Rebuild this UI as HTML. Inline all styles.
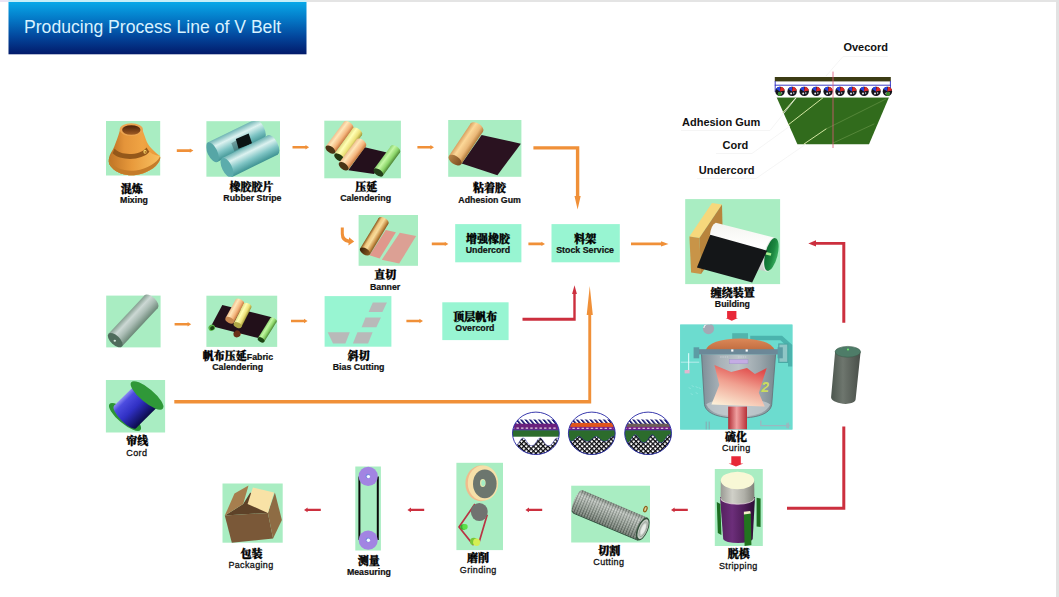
<!DOCTYPE html>
<html lang="zh">
<head>
<meta charset="utf-8">
<title>Producing Process Line of V Belt</title>
<style>
html,body{margin:0;padding:0;background:#fff;}
body{width:1059px;height:597px;overflow:hidden;position:relative;}
svg{display:block;position:absolute;left:0;top:0;}
.en{font-family:"Liberation Sans",sans-serif;font-weight:bold;font-size:8.8px;fill:#111;text-anchor:middle;stroke:#111;stroke-width:0.22px;}
.er{font-family:"Liberation Sans",sans-serif;font-weight:normal;font-size:9px;fill:#111;text-anchor:middle;letter-spacing:0.35px;stroke:#111;stroke-width:0.28px;}
.zh{font-family:"Liberation Serif","Noto Serif CJK SC",serif;font-weight:900;font-size:11px;fill:#000;text-anchor:middle;stroke:#000;stroke-width:0.35px;transform:translateY(0.4px);}
.bl{font-family:"Liberation Sans",sans-serif;font-weight:bold;font-size:11px;fill:#111;}
.title{font-family:"Liberation Sans",sans-serif;font-size:17.6px;fill:#d8f2ff;}
</style>
</head>
<body>
<svg width="1059" height="597" viewBox="0 0 1059 597">
<defs>
<linearGradient id="gTitle" x1="0" y1="0" x2="0" y2="1">
<stop offset="0" stop-color="#08a8e8"/><stop offset="0.33" stop-color="#0478c6"/><stop offset="0.65" stop-color="#03489e"/><stop offset="1" stop-color="#021a6a"/>
</linearGradient>
<linearGradient id="g1" x1="0" y1="0" x2="1" y2="0"><stop offset="0" stop-color="#b86c22"/><stop offset="0.3" stop-color="#e4943a"/><stop offset="0.65" stop-color="#f0a444"/><stop offset="1" stop-color="#e89838"/></linearGradient>
<linearGradient id="g2" x1="0" y1="0" x2="0" y2="1"><stop offset="0" stop-color="#4a2008"/><stop offset="1" stop-color="#a05c24"/></linearGradient>
<linearGradient id="g3" x1="0" y1="0" x2="1" y2="0"><stop offset="0" stop-color="#c07426"/><stop offset="0.45" stop-color="#e89a3c"/><stop offset="1" stop-color="#f8c060"/></linearGradient>
<linearGradient id="g4" x1="0" y1="0" x2="0" y2="1"><stop offset="0" stop-color="#6fb4b4"/><stop offset="0.3" stop-color="#dcf2f0"/><stop offset="0.65" stop-color="#7ec4c4"/><stop offset="1" stop-color="#3f9393"/></linearGradient>
<linearGradient id="g5" x1="0" y1="0" x2="0" y2="1"><stop offset="0" stop-color="#6fb4b4"/><stop offset="0.3" stop-color="#dcf2f0"/><stop offset="0.65" stop-color="#7ec4c4"/><stop offset="1" stop-color="#3f9393"/></linearGradient>
<linearGradient id="g6" x1="0" y1="0" x2="0" y2="1"><stop offset="0" stop-color="#f0c090"/><stop offset="0.28" stop-color="#ffe6b8"/><stop offset="0.7" stop-color="#f4b47c"/><stop offset="1" stop-color="#c4763c"/></linearGradient>
<linearGradient id="g7" x1="0" y1="0" x2="0" y2="1"><stop offset="0" stop-color="#e6de84"/><stop offset="0.3" stop-color="#ffffb4"/><stop offset="0.7" stop-color="#ece078"/><stop offset="1" stop-color="#a09838"/></linearGradient>
<linearGradient id="g8" x1="0" y1="0" x2="0" y2="1"><stop offset="0" stop-color="#f0c090"/><stop offset="0.28" stop-color="#ffe6b8"/><stop offset="0.7" stop-color="#f4b47c"/><stop offset="1" stop-color="#c4763c"/></linearGradient>
<linearGradient id="g9" x1="0" y1="0" x2="0" y2="1"><stop offset="0" stop-color="#8ed474"/><stop offset="0.3" stop-color="#c4f8a4"/><stop offset="0.7" stop-color="#8ad468"/><stop offset="1" stop-color="#4c8434"/></linearGradient>
<linearGradient id="g10" x1="0" y1="0" x2="0" y2="1"><stop offset="0" stop-color="#d8a060"/><stop offset="0.3" stop-color="#fcd898"/><stop offset="0.7" stop-color="#eab878"/><stop offset="1" stop-color="#b07838"/></linearGradient>
<linearGradient id="g11" x1="0" y1="0" x2="0" y2="1"><stop offset="0" stop-color="#b88448"/><stop offset="1" stop-color="#7a4c20"/></linearGradient>
<linearGradient id="g12" x1="0" y1="0" x2="0" y2="1"><stop offset="0" stop-color="#8a5418"/><stop offset="0.25" stop-color="#f0c880"/><stop offset="0.5" stop-color="#f8dc9c"/><stop offset="0.8" stop-color="#c89048"/><stop offset="1" stop-color="#8a5820"/></linearGradient>
<linearGradient id="g13" x1="0" y1="0" x2="0" y2="1"><stop offset="0" stop-color="#3a2008"/><stop offset="1" stop-color="#8a5c20"/></linearGradient>
<linearGradient id="g14" x1="0" y1="0" x2="0" y2="1"><stop offset="0" stop-color="#86a092"/><stop offset="0.3" stop-color="#ccd8d4"/><stop offset="0.6" stop-color="#aabcb4"/><stop offset="1" stop-color="#6c8878"/></linearGradient>
<linearGradient id="g15" x1="0" y1="0" x2="0" y2="1"><stop offset="0" stop-color="#f0c090"/><stop offset="0.28" stop-color="#ffe6b8"/><stop offset="0.7" stop-color="#f4b47c"/><stop offset="1" stop-color="#c4763c"/></linearGradient>
<linearGradient id="g16" x1="0" y1="0" x2="0" y2="1"><stop offset="0" stop-color="#f0c090"/><stop offset="0.28" stop-color="#ffe6b8"/><stop offset="0.7" stop-color="#f4b47c"/><stop offset="1" stop-color="#c4763c"/></linearGradient>
<linearGradient id="g17" x1="0" y1="0" x2="0" y2="1"><stop offset="0" stop-color="#e6de84"/><stop offset="0.3" stop-color="#ffffb4"/><stop offset="0.7" stop-color="#ece078"/><stop offset="1" stop-color="#a09838"/></linearGradient>
<linearGradient id="g18" x1="0" y1="0" x2="0" y2="1"><stop offset="0" stop-color="#8ed474"/><stop offset="0.3" stop-color="#c4f8a4"/><stop offset="0.7" stop-color="#8ad468"/><stop offset="1" stop-color="#4c8434"/></linearGradient>
<linearGradient id="g19" x1="0" y1="0" x2="0" y2="1"><stop offset="0" stop-color="#8c8cf4"/><stop offset="0.15" stop-color="#4c4ce0"/><stop offset="0.5" stop-color="#3030c4"/><stop offset="0.85" stop-color="#161670"/><stop offset="1" stop-color="#0c0c48"/></linearGradient>
<linearGradient id="g101" x1="0" y1="0" x2="0" y2="1"><stop offset="0" stop-color="#f4f4f0"/><stop offset="0.5" stop-color="#ffffff"/><stop offset="1" stop-color="#c8ccc8"/></linearGradient>
<linearGradient id="g102" x1="0" y1="0" x2="1" y2="0"><stop offset="0" stop-color="#0c6c30"/><stop offset="0.6" stop-color="#1c8840"/><stop offset="1" stop-color="#38b060"/></linearGradient>
<linearGradient id="g103" x1="0" y1="0" x2="1" y2="0"><stop offset="0" stop-color="#7e8e98"/><stop offset="0.25" stop-color="#a8b2b8"/><stop offset="0.5" stop-color="#bcc4c8"/><stop offset="0.8" stop-color="#98a4aa"/><stop offset="1" stop-color="#78888f"/></linearGradient>
<linearGradient id="g104" x1="0" y1="0" x2="0" y2="1"><stop offset="0" stop-color="#dc8858"/><stop offset="1" stop-color="#c06c40"/></linearGradient>
<linearGradient id="g105" x1="0.6" y1="0" x2="0.2" y2="1"><stop offset="0" stop-color="#e04848"/><stop offset="0.45" stop-color="#f0a090"/><stop offset="1" stop-color="#fcf0d8"/></linearGradient>
<linearGradient id="g106" x1="0" y1="0" x2="1" y2="0"><stop offset="0" stop-color="#b02c34"/><stop offset="0.45" stop-color="#f0a0a0"/><stop offset="1" stop-color="#b83038"/></linearGradient>
<linearGradient id="g107" x1="0" y1="0" x2="1" y2="0"><stop offset="0" stop-color="#9a9a94"/><stop offset="0.35" stop-color="#d0d0c8"/><stop offset="0.7" stop-color="#b0b0a8"/><stop offset="1" stop-color="#808078"/></linearGradient>
<linearGradient id="g108" x1="0" y1="0" x2="1" y2="0"><stop offset="0" stop-color="#54205e"/><stop offset="0.35" stop-color="#6c2e7a"/><stop offset="0.7" stop-color="#4e1c58"/><stop offset="1" stop-color="#2c0c34"/></linearGradient>
<pattern id="mesh" width="2.8" height="2.3" patternUnits="userSpaceOnUse"><rect width="2.8" height="2.3" fill="#a4aca4"/><path d="M0,0.3 H2.8" stroke="#ccd4cc" stroke-width="0.6"/><path d="M0.4,0 V2.3" stroke="#58625a" stroke-width="0.8"/></pattern>
<linearGradient id="g109" x1="0" y1="0" x2="0" y2="1"><stop offset="0" stop-color="#000000"/><stop offset="0.3" stop-color="#ffffff"/><stop offset="0.6" stop-color="#808080"/><stop offset="1" stop-color="#000000"/></linearGradient>
<linearGradient id="g110" x1="0" y1="0" x2="0" y2="1"><stop offset="0" stop-color="#404840"/><stop offset="0.2" stop-color="#ffffff"/><stop offset="0.6" stop-color="#8a928a"/><stop offset="1" stop-color="#101810"/></linearGradient>
<linearGradient id="g111" x1="0" y1="0" x2="1" y2="0"><stop offset="0" stop-color="#4c564e"/><stop offset="0.4" stop-color="#6e766e"/><stop offset="1" stop-color="#484e48"/></linearGradient>
<pattern id="chk" width="3.4" height="3.4" patternUnits="userSpaceOnUse" patternTransform="rotate(45)"><rect width="3.4" height="3.4" fill="#fff"/><path d="M0,0.65 H3.4 M0.65,0 V3.4" stroke="#08080c" stroke-width="1.25"/></pattern>
<pattern id="hat" width="4.5" height="6" patternUnits="userSpaceOnUse" patternTransform="skewX(40)"><rect width="4.5" height="6" fill="#fff"/><rect width="2.3" height="6" fill="#1c1c74"/></pattern>
<clipPath id="cc"><ellipse cx="0" cy="0" rx="23.4" ry="21.2"/></clipPath>
</defs>
<rect width="1059" height="597" fill="#fff"/>
<!-- page edges -->
<rect x="0" y="0" width="1059" height="2" fill="#e4e4e4"/><rect x="0" y="0" width="8.5" height="2" fill="#ebe4f4"/><rect x="8.5" y="0" width="298" height="2.2" fill="#c6eef8"/>
<rect x="1056" y="0" width="3" height="597" fill="#e2e2e2"/>
<!-- title -->
<rect x="8.5" y="2" width="298" height="52.3" fill="url(#gTitle)"/>
<text class="title" x="24" y="32.5">Producing Process Line of V Belt</text>

<!-- orange arrows -->
<g fill="#f09038" stroke="none">
<path id="oa" d="M0,-1.3 L13,-1.3 L13,-2.2 L16.6,0 L13,2.2 L13,1.3 L0,1.3 Z" transform="translate(176.8,150.6)"/>
<use href="#oa" x="115.7" y="-3.3"/>
<use href="#oa" x="240.6" y="-3.3"/>
<use href="#oa" x="255" y="93.3"/>
<use href="#oa" x="351.6" y="93.3"/>
<use href="#oa" x="-2.2" y="173.6"/>
<use href="#oa" x="114.2" y="170.4"/>
<use href="#oa" x="229.6" y="170.4"/>
<!-- after stock service -->
<path d="M631,242.6 L661,242.6 L661,241.2 L668.5,243.9 L661,246.6 L661,245.2 L631,245.2 Z"/>
<!-- adhesion gum -> stock service -->
<path d="M533.4,146.3 L579.3,146.3 L579.3,196 L580.7,196 L577.6,209.6 L574.5,196 L575.9,196 L575.9,149.5 L533.4,149.5 Z"/>
<!-- cord line -->
<path d="M174.3,400 L588.3,400 L588.3,315 L586.7,315 L589.75,286 L592.8,315 L591.2,315 L591.2,403.4 L174.3,403.4 Z"/>
<!-- curved arrow -->
<path d="M340.8,227.6 L343.8,227.6 L343.8,233.5 Q344,238.6 349,239.4 L349,237.2 L354.2,241.6 L348.4,245.4 L348.6,242.9 Q340.8,242 340.8,234 Z"/>
</g>
<!-- red arrows -->
<g fill="#cc2f3e" stroke="none">
<path id="ra" d="M0,0 L3.6,-2.3 L3.6,-1.2 L16.8,-1.2 L16.8,1.2 L3.6,1.2 L3.6,2.3 Z" transform="translate(304,509.9)"/>
<use href="#ra" x="103.4" y="0"/>
<use href="#ra" x="221.4" y="0"/>
<use href="#ra" x="367" y="0"/>
<!-- overcord -> stock -->
<path d="M522.5,317.8 L573.3,317.8 L573.3,294 L572.1,294 L574.5,285.2 L576.9,294 L575.7,294 L575.7,320.7 L522.5,320.7 Z"/>
<!-- loop back to building -->
<path d="M808.3,243.4 L816,240.3 L816,242 L845.3,242 L845.3,322.8 L842.3,322.8 L842.3,244.8 L816,244.8 L816,246.5 Z"/>
<path d="M842.3,426.5 L845.3,426.5 L845.3,509.8 L787,509.8 L787,506.8 L842.3,506.8 Z"/>
</g>
<g fill="#e82838">
<path d="M727.1,310.9 H736.4 V318 H738 L731.8,320.8 L725.6,318 H727.1 Z"/>
<path d="M731.3,456.2 H740.8 V463.5 H743.4 L736,466.6 L728.6,463.5 H731.3 Z"/>
</g>

<g>
<rect x="106" y="121" width="54.2" height="54.5" fill="#a9edc2"/>
<rect x="206.4" y="121.2" width="73.6" height="55.5" fill="#a9edc2"/>
<rect x="324.3" y="120.7" width="76.6" height="57.6" fill="#a9edc2"/>
<rect x="448.2" y="120" width="73.2" height="56.8" fill="#a9edc2"/>
<rect x="358.6" y="215" width="59.4" height="50.8" fill="#a9edc2"/>
<rect x="455.2" y="224.1" width="66.2" height="38.2" fill="#98f5d2"/>
<rect x="551.5" y="224.1" width="68.3" height="38.2" fill="#98f5d2"/>
<rect x="106.2" y="295.6" width="54.4" height="51.8" fill="#a9edc2"/>
<rect x="206.4" y="295.7" width="70.8" height="51.2" fill="#a9edc2"/>
<rect x="324.6" y="296.1" width="66.8" height="50.6" fill="#98f5d2"/>
<rect x="442.3" y="302.3" width="66.3" height="37.8" fill="#98f5d2"/>
<rect x="105.9" y="380" width="59.2" height="52.5" fill="#a9edc2"/>
<rect x="685.2" y="199.1" width="94.9" height="85" fill="#a9edc2"/>
<rect x="680.2" y="324.6" width="112.2" height="104.9" fill="#66d9d3"/>
<rect x="714.8" y="469" width="48" height="77" fill="#a9edc2"/>
<rect x="571.2" y="485.7" width="78.8" height="56.8" fill="#a9edc2"/>
<rect x="456.4" y="462.8" width="46.6" height="87.3" fill="#a9edc2"/>
<rect x="355.3" y="466.5" width="25.6" height="84" fill="#a9edc2"/>
<rect x="222.5" y="483.5" width="60.2" height="59.2" fill="#a9edc2"/>
</g>

<g transform="translate(106,121)"><path d="M14,9 C12,16 10,21 8.3,25.5 C6.5,30 3.5,33 2.9,38 C2.4,42 3.4,44 5.4,46 C12,53.5 22,55 30,54 C40,52.6 50,47 53.4,40 C54.6,37 54.4,35.5 53.4,34.6 C49,31 43,26 40.9,21 C39,16 37.6,12 36.6,9 Z" fill="url(#g1)"/><path d="M6.6,32.2 C14,40 36,40 43.4,30.8 C47,34 51,34.6 53.4,34.6 C54.4,35.5 54.6,37 53.4,40 C50,47 40,52.6 30,54 C22,55 12,53.5 5.4,46 C3.4,44 2.4,42 2.9,38 C3.4,35 5.4,33.6 6.6,32.2 Z" fill="url(#g3)"/><path d="M2.9,38 C2.4,42 3.4,44 5.4,46 C12,53.5 22,55 30,54 C40,52.6 50,47 53.4,40 C54.4,37.6 54.4,36 54,35.4 C51,42 41,47.6 30,49.4 C20,50.6 8,48.4 2.9,38 Z" fill="#c47c2a"/><path d="M8.6,27.6 C14,35 34,35 40.6,26.4 C41.4,28 42.4,29.6 43.4,30.8 C36,40 14,40 6.6,32.2 C7.4,30.6 8,29.2 8.6,27.6 Z" fill="#94581a"/><ellipse cx="39" cy="30.8" rx="1.6" ry="2" fill="#f6d468"/><ellipse cx="39.3" cy="30.9" rx="0.7" ry="1" fill="#a86820"/><ellipse cx="25.3" cy="8.6" rx="11.6" ry="6.4" fill="#eca450"/><ellipse cx="25.3" cy="9" rx="9.2" ry="4.8" fill="url(#g2)"/></g>
<g transform="translate(206.4,121.2)"><clipPath id="c2"><rect width="73.6" height="55.5"/></clipPath><g clip-path="url(#c2)"><g transform="translate(6,31) rotate(-25.9)"><ellipse cx="52.2" cy="0" rx="4.9" ry="10.8" fill="url(#g4)"/><rect x="0" y="-10.8" width="52.2" height="21.6" fill="url(#g4)"/><ellipse cx="0" cy="0" rx="4.9" ry="10.8" fill="#56a6a6"/></g><polygon points="25,22 30,19 33,27.6 28,30" fill="#3a5858" opacity="0.45"/><polygon points="29.4,17.9 42.3,12.3 45.7,22.4 32.2,27.5" fill="#0c1414"/><g transform="translate(20.6,46.4) rotate(-26.3)"><ellipse cx="51.1" cy="0" rx="4.9" ry="10.8" fill="url(#g5)"/><rect x="0" y="-10.8" width="51.1" height="21.6" fill="url(#g5)"/><ellipse cx="0" cy="0" rx="4.9" ry="10.8" fill="#5cacac"/></g></g></g>
<g transform="translate(324.3,120.7)"><g transform="translate(6.1,28.9) rotate(-53.3)"><ellipse cx="30.4" cy="0" rx="3.1" ry="5.7" fill="url(#g6)"/><rect x="0" y="-5.7" width="30.4" height="11.4" fill="url(#g6)"/><ellipse cx="0" cy="0" rx="3.1" ry="5.7" fill="#4a3414"/></g><g transform="translate(14.9,36.8) rotate(-54.9)"><ellipse cx="31.5" cy="0" rx="3.1" ry="5.7" fill="url(#g7)"/><rect x="0" y="-5.7" width="31.5" height="11.4" fill="url(#g7)"/><ellipse cx="0" cy="0" rx="3.1" ry="5.7" fill="#243810"/></g><polygon points="40.4,26.6 62.7,31.9 49.8,53.4 24,49.5" fill="#24101c"/><g transform="translate(19.3,45.6) rotate(-52.9)"><ellipse cx="29.5" cy="0" rx="3.1" ry="5.7" fill="url(#g8)"/><rect x="0" y="-5.7" width="29.5" height="11.4" fill="url(#g8)"/><ellipse cx="0" cy="0" rx="3.1" ry="5.7" fill="#4a3414"/></g><g transform="translate(54.1,51.8) rotate(-53.8)"><ellipse cx="28.8" cy="0" rx="3.1" ry="5.6" fill="url(#g9)"/><rect x="0" y="-5.6" width="28.8" height="11.2" fill="url(#g9)"/><ellipse cx="0" cy="0" rx="3.1" ry="5.6" fill="#24401a"/></g></g>
<g transform="translate(448.2,120)"><polygon points="13.5,43.6 33.4,14.9 72.7,23.7 49.2,55.3" fill="#2a1220"/><g transform="translate(6.8,40.1) rotate(-56.1)"><ellipse cx="39.3" cy="0" rx="4.1" ry="7.4" fill="url(#g10)"/><rect x="0" y="-7.4" width="39.3" height="14.8" fill="url(#g10)"/><ellipse cx="0" cy="0" rx="4.1" ry="7.4" fill="url(#g11)"/></g></g>
<g transform="translate(358.6,215)"><polygon points="10.9,40.2 27.2,14.9 37.3,17.2 21,43.5" fill="#e0988c"/><polygon points="23.2,44.7 41.2,17.7 57.5,21.1 40.6,48.6" fill="#dca094"/><g transform="translate(6.4,36.5) rotate(-58.8)"><ellipse cx="35.8" cy="0" rx="3.1" ry="5.7" fill="url(#g12)"/><rect x="0" y="-5.7" width="35.8" height="11.4" fill="url(#g12)"/><ellipse cx="0" cy="0" rx="3.1" ry="5.7" fill="url(#g13)"/></g></g>
<g transform="translate(106.2,295.6)"><g transform="translate(9,44.5) rotate(-46.9)"><ellipse cx="52.6" cy="0" rx="4.6" ry="9.2" fill="url(#g14)"/><rect x="0" y="-9.2" width="52.6" height="18.4" fill="url(#g14)"/><ellipse cx="0" cy="0" rx="4.6" ry="9.2" fill="#4f6c5c"/></g><ellipse cx="8.6" cy="45.2" rx="1.2" ry="1" fill="#d8e8e0"/></g>
<g transform="translate(206.4,295.7)"><g transform="translate(30.5,38.4) rotate(-61.6)"><ellipse cx="22.1" cy="0" rx="2.2" ry="3.6" fill="url(#g15)"/><rect x="0" y="-3.6" width="22.1" height="7.2" fill="url(#g15)"/><ellipse cx="0" cy="0" rx="2.2" ry="3.6" fill="#5a2c14"/></g><polygon points="15.9,9.2 65.4,21.6 53,42.6 4.7,30.4" fill="#22101a"/><ellipse cx="5.4" cy="32" rx="3.4" ry="3" fill="#58b048" transform="rotate(-30 5.4 32)"/><ellipse cx="5.8" cy="32.4" rx="2.2" ry="1.8" fill="#1c4414" transform="rotate(-30 5.8 32.4)"/><ellipse cx="30.5" cy="38.2" rx="3.6" ry="3" fill="#6a3018" transform="rotate(-60 30.5 38.2)"/><g transform="translate(23.3,24.6) rotate(-61.5)"><ellipse cx="20.9" cy="0" rx="2.8" ry="4.7" fill="url(#g16)"/><rect x="0" y="-4.7" width="20.9" height="9.4" fill="url(#g16)"/><ellipse cx="0" cy="0" rx="2.8" ry="4.7" fill="#c88850"/></g><g transform="translate(31.2,29.4) rotate(-63)"><ellipse cx="21.6" cy="0" rx="2.6" ry="4.3" fill="url(#g17)"/><rect x="0" y="-4.3" width="21.6" height="8.6" fill="url(#g17)"/><ellipse cx="0" cy="0" rx="2.6" ry="4.3" fill="#b0a848"/></g><g transform="translate(54.7,44.2) rotate(-58.2)"><ellipse cx="23.3" cy="0" rx="2.2" ry="3.7" fill="url(#g18)"/><rect x="0" y="-3.7" width="23.3" height="7.4" fill="url(#g18)"/><ellipse cx="0" cy="0" rx="2.2" ry="3.7" fill="#1c4414"/></g></g>
<g transform="translate(324.6,296.1)" fill="#b9b9b9"><polygon points="48.2,6.3 62.3,6.3 57.8,16 44,16"/><polygon points="40.9,21.3 56.3,21.3 51.8,31.2 37,31.2"/><polygon points="32.8,36.2 48,36.2 43.5,47.4 28.3,47.4"/><polygon points="3.1,36.2 25.2,36.2 20.8,47.4 8.4,47.4"/></g>
<g transform="translate(105.9,380)"><ellipse cx="19.1" cy="37" rx="20.2" ry="6.6" fill="#2c9434" transform="rotate(40 19.1 37)"/><g transform="translate(19.1,37) rotate(-44.5)"><ellipse cx="0" cy="0" rx="5" ry="15.6" fill="url(#g19)"/><rect x="0" y="-15.6" width="30.8" height="31.2" fill="url(#g19)"/></g><ellipse cx="41.1" cy="15.4" rx="20.6" ry="6.8" fill="#2f9838" transform="rotate(40 41.1 15.4)"/></g>
<g transform="translate(685.2,199.1)"><polygon points="26.8,3.9 36.8,5.5 14.2,39 4.2,37.3" fill="#f6d87c"/><polygon points="4.2,37.3 14.2,39 15.9,75 5.9,73.3" fill="#c89448"/><polygon points="14.2,39 36.8,5.5 37.7,43.2 15.9,75" fill="#b8843c"/><path d="M24.6,37 Q25.4,26 30.6,23.6 L88.6,38.4 L80.5,72 L68,70 Z" fill="url(#g101)"/><ellipse cx="85.4" cy="55.6" rx="6.6" ry="17.4" fill="#e4e8e4" transform="rotate(14 85.4 55.6)"/><ellipse cx="86.2" cy="55.4" rx="6.2" ry="16.8" fill="url(#g102)" transform="rotate(14 86.2 55.4)"/><rect x="80.6" y="53.4" width="5.4" height="2.6" fill="#a8f090" transform="rotate(14 83 54.6)"/><polygon points="25.1,35.7 82,51.6 67,83.4 11.7,68.3" fill="#141618"/></g>
<g transform="translate(680.2,324.6)"><clipPath id="c11"><rect width="112.2" height="104.9"/></clipPath><rect width="112.2" height="104.9" fill="#6cdccf"/><g clip-path="url(#c11)"><circle cx="28.3" cy="4" r="5.6" fill="#a4a8b4"/><path d="M23.6,3.4 A5,5 0 0 1 29.6,-0.8" stroke="#e8f4f4" stroke-width="1.2" fill="none"/><path d="M70,13.4 H101 L110,21.5 V42" stroke="#4bb3ad" stroke-width="4.4" fill="none"/><rect x="98.6" y="19.4" width="9" height="18.4" fill="#8fc6c6" stroke="#4aa8a4" stroke-width="1.2"/><rect x="52" y="8.6" width="15.8" height="6" fill="#52b4ac"/><path d="M0.6,37.6 H19" stroke="#b8ecec" stroke-width="1"/><path d="M8.5,28.6 V46" stroke="#e8ffff" stroke-width="1"/><rect x="4.4" y="45.4" width="5" height="3.4" fill="#e0b8d0"/><path d="M9,63 l1,1 m2,-3 l1,1 m3,0 l1,1 m-6,6 l1,1 m4,-2 l1,1 m2,-6 l1,1" stroke="#b8f0f0" stroke-width="0.8"/><path d="M25.3,26 Q29,14.4 60,13.8 Q91,14.4 94.6,26 Z" fill="url(#g104)"/><path d="M21.3,29.6 L95.4,29.6 L91.5,80 C90,90 75,93.4 58,93.4 C41,93.4 26,90 24.3,80 Z" fill="url(#g103)"/><path d="M26,80 C34,72 82,72 90,80 C86,89 74,91.6 58,91.6 C42,91.6 30,89 26,80 Z" fill="#c4ccd0" opacity="0.75"/><path d="M21.3,29.6 L24.3,80 C26,90 41,93.4 58,93.4 C75,93.4 90,90 91.5,80 L95.4,29.6" stroke="#66747c" stroke-width="0.9" fill="none"/><rect x="17.6" y="24.6" width="82" height="5.2" fill="#6c8898"/><rect x="13.4" y="22.7" width="5.6" height="11" fill="#5c9ca4"/><rect x="97.4" y="22.7" width="5.2" height="11" fill="#5c9ca4"/><rect x="51" y="24.8" width="2.2" height="2.2" fill="#fff"/><rect x="65.4" y="24.8" width="2.2" height="2.2" fill="#fff"/><path d="M40,32.4 h8 M58,32.4 h8" stroke="#d0d8dc" stroke-width="0.8" stroke-dasharray="1.4,0.8"/><rect x="49" y="34.8" width="18.8" height="4.4" fill="#c4acE4" stroke="#9890c0" stroke-width="0.4"/><polygon points="34.2,40.5 51,47.4 66.8,43.5 74.7,49.4 86.5,43.5 78.6,68.2 84.6,82 31.2,80 39.1,60.3" fill="url(#g105)"/><text x="81" y="67.2" style="font-family:'Liberation Sans',sans-serif;font-style:italic;font-weight:bold;font-size:14px;fill:#ccdc5c">2</text><rect x="48" y="82" width="18.8" height="23" fill="url(#g106)"/><path d="M80.6,96 V101 H108 M108,98 V104" stroke="#9ab8c0" stroke-width="1.4" fill="none"/><path d="M106,98.4 L110.6,101 L106,103.6 Z" fill="#9ab8c0"/><path d="M26,97 V105 M29,97 V105" stroke="#88a8b0" stroke-width="1"/></g></g>
<g transform="translate(714.8,469)"><rect x="41.8" y="29" width="4" height="28.6" fill="#1c6c20" transform="skewY(8) translate(0,-6)"/><path d="M5.2,28 L40.2,28 L37.9,70 A14.8,4.4 0 0 1 8.4,70 Z" fill="url(#g108)"/><path d="M6,11.5 L39.4,11.5 L39.6,29.4 A16.8,5.8 0 0 1 5.8,29.4 Z" fill="url(#g107)"/><path d="M5.8,29.4 A16.8,5.8 0 0 0 39.6,29.4" stroke="#f0e0e8" stroke-width="0.7" fill="none"/><ellipse cx="22.7" cy="11.5" rx="16.7" ry="8.7" fill="#f8f8d6"/><polygon points="2,33 5.6,35 6.6,66 3,64" fill="#1c6c20"/><polygon points="29.1,44.9 36,44 36.6,76 29.8,77" fill="#22741f"/><polygon points="29.1,42.8 35.4,42 36,44.4 29.1,45.4" fill="#f4f0c8"/></g>
<g transform="translate(571.2,485.7)"><g transform="translate(6.6,16) rotate(22.8)"><ellipse cx="0" cy="0" rx="4" ry="12.3" fill="url(#mesh)"/><rect x="0" y="-12.3" width="70.4" height="24.6" fill="url(#mesh)"/><path d="M0,-12.3 H70.4 V12.3 H0 A4,12.3 0 0 1 0,-12.3 Z" fill="url(#g110)" opacity="0.3"/><path d="M-2,10.6 Q-0.6,12.3 1,12.3 H70.4" stroke="#2c4838" stroke-width="0.8" fill="none"/><ellipse cx="70.4" cy="0" rx="5.4" ry="12.3" fill="#34503c"/><ellipse cx="70.7" cy="0" rx="4.2" ry="10.6" fill="#c4ccc4"/><ellipse cx="70.9" cy="0" rx="3" ry="8" fill="none" stroke="#98a098" stroke-width="0.8"/><ellipse cx="71" cy="0" rx="1.8" ry="5.6" fill="#e8ece8"/></g><ellipse cx="74.2" cy="23.4" rx="1.5" ry="2.8" fill="#e0d098" stroke="#8a5c14" stroke-width="1.2" transform="rotate(20 74.2 23.4)"/></g>
<g transform="translate(456.4,462.8)"><ellipse cx="24.4" cy="20.6" rx="15.4" ry="17.8" fill="#f0bc8c"/><ellipse cx="26.6" cy="20.2" rx="15.2" ry="17.6" fill="#f6e0a8"/><ellipse cx="28.4" cy="21" rx="11.8" ry="14.4" fill="#6c766e"/><ellipse cx="26.4" cy="20.2" rx="2.8" ry="4" fill="#e4e8b0"/><ellipse cx="26.8" cy="20.2" rx="1.9" ry="3" fill="#a4ecc4"/><path d="M18.5,41.3 L2.6,64.2 L16.7,81.8 L22.9,78.6 L30.8,51.9" stroke="#b83444" stroke-width="1.7" fill="none" stroke-linejoin="round"/><ellipse cx="22.9" cy="49.2" rx="8.4" ry="9.1" fill="#707270"/><ellipse cx="6.8" cy="64.2" rx="3" ry="2.8" fill="#3aa830"/><ellipse cx="8.6" cy="64" rx="2.7" ry="2.8" fill="#5ce048"/><ellipse cx="17.4" cy="78.6" rx="3.8" ry="3.6" fill="#78c838"/><ellipse cx="20.2" cy="79.4" rx="3.5" ry="3.7" fill="#d4ee54"/></g>
<g transform="translate(355.3,466.5)"><path d="M4.1,9.9 V73.6 M22.5,9.9 V73.6" stroke="#0a0a0a" stroke-width="2"/><circle cx="12.9" cy="9.9" r="9.6" fill="#a284e2"/><circle cx="12.9" cy="73.6" r="9.6" fill="#a284e2"/><circle cx="12.6" cy="9.7" r="2.4" fill="#7888e0"/><circle cx="13.1" cy="10.1" r="1.7" fill="#f4faff"/><circle cx="12.6" cy="73.3" r="2.4" fill="#7888e0"/><circle cx="13.1" cy="73.8" r="1.7" fill="#f4faff"/></g>
<g transform="translate(222.5,483.5)"><polygon points="20.7,20.6 27.8,9.1 45.4,29.4 2.3,32" fill="#5e4228"/><polygon points="2.3,32 12,10 26,2.1 20.7,20.6" fill="#a67e4e"/><polygon points="2.3,32 45.4,29.4 50.6,54.9 9.3,59.3" fill="#7a5838"/><polygon points="45.4,29.4 52.4,9.1 59.4,36.4 50.6,54.9" fill="#8e6c44"/><polygon points="30.4,3.9 51.5,9.1 45.4,29.4 25.1,20.6" fill="#f8e2a6"/></g>
<g><path d="M835.1,351.8 L860.6,351.8 L855.6,399.6 A12.2,5.4 6 0 1 831.1,397 Z" fill="url(#g111)"/><ellipse cx="847.8" cy="351.8" rx="12.7" ry="5.4" fill="#4e7c68"/><ellipse cx="847.8" cy="351.8" rx="12.7" ry="5.4" fill="none" stroke="#3c5c4c" stroke-width="0.6"/><circle cx="848" cy="349.6" r="1" fill="#70f070"/></g>
<g transform="translate(535.9,433.3)"><g clip-path="url(#cc)"><rect x="-24" y="-22" width="48" height="44" fill="#fff"/><rect x="-24" y="-13.8" width="48" height="4.6" fill="url(#hat)"/><rect x="-24" y="-9.6" width="48" height="6.2" fill="#6a207c"/><path d="M-24,-5.2 H24" stroke="#fff" stroke-width="1" stroke-dasharray="2.4,2.2"/><rect x="-24" y="-3.2" width="48" height="6.6" fill="#2c6c2c"/><path d="M-24,24 L-24,8.6 L-24,11.3 L-23.5,11.7 L-23,12 L-22.5,12.3 L-22,12.4 L-21.5,12.4 L-21,12.4 L-20.5,12.3 L-20,12.2 L-19.5,12 L-19,11.6 L-18.5,11.2 L-18,10.6 L-17.5,10 L-17,9.2 L-16.5,8.5 L-16,7.7 L-15.5,7 L-15,6.3 L-14.5,5.7 L-14,5.3 L-13.5,5 L-13,4.8 L-12.5,4.8 L-12,5 L-11.5,5.4 L-11,5.8 L-10.5,6.4 L-10,7.1 L-9.5,7.9 L-9,8.6 L-8.5,9.4 L-8,10.1 L-7.5,10.7 L-7,11.3 L-6.5,11.7 L-6,12 L-5.5,12.3 L-5,12.4 L-4.5,12.4 L-4,12.4 L-3.5,12.3 L-3,12.2 L-2.5,12 L-2,11.6 L-1.5,11.2 L-1,10.6 L-0.5,10 L0,9.2 L0.5,8.5 L1,7.7 L1.5,7 L2,6.3 L2.5,5.7 L3,5.3 L3.5,5 L4,4.8 L4.5,4.8 L5,5 L5.5,5.4 L6,5.8 L6.5,6.4 L7,7.1 L7.5,7.9 L8,8.6 L8.5,9.4 L9,10.1 L9.5,10.7 L10,11.3 L10.5,11.7 L11,12 L11.5,12.3 L12,12.4 L12.5,12.4 L13,12.4 L13.5,12.3 L14,12.2 L14.5,12 L15,11.6 L15.5,11.2 L16,10.6 L16.5,10 L17,9.2 L17.5,8.5 L18,7.7 L18.5,7 L19,6.3 L19.5,5.7 L20,5.3 L20.5,5 L21,4.8 L21.5,4.8 L22,5 L22.5,5.4 L23,5.8 L23.5,6.4 L24,7.1 L24,24 Z" fill="url(#chk)" stroke="#2424a4" stroke-width="0.5"/><path d="M-24,-3.3 H24" stroke="#2020a0" stroke-width="0.6"/></g><ellipse cx="0" cy="0" rx="23.4" ry="21.2" fill="none" stroke="#2424a4" stroke-width="0.9"/></g>
<g transform="translate(591.8,433.3)"><g clip-path="url(#cc)"><rect x="-24" y="-22" width="48" height="44" fill="#fff"/><rect x="-24" y="-13.8" width="48" height="4.6" fill="url(#hat)"/><rect x="-24" y="-10.4" width="48" height="4.6" fill="#e0541c"/><rect x="-24" y="-6.4" width="48" height="3.2" fill="#7a2088"/><path d="M-24,-5 H24" stroke="#fff" stroke-width="0.9" stroke-dasharray="2.4,2.2"/><rect x="-24" y="-3.2" width="48" height="30" fill="#2c6c2c"/><path d="M-24,24 L-24,5.6 L-24,7.3 L-23.5,7.6 L-23,7.8 L-22.5,7.9 L-22,8 L-21.5,8 L-21,8 L-20.5,8 L-20,7.9 L-19.5,7.7 L-19,7.5 L-18.5,7.2 L-18,6.9 L-17.5,6.5 L-17,6 L-16.5,5.5 L-16,5 L-15.5,4.6 L-15,4.2 L-14.5,3.8 L-14,3.5 L-13.5,3.3 L-13,3.2 L-12.5,3.2 L-12,3.3 L-11.5,3.6 L-11,3.9 L-10.5,4.2 L-10,4.7 L-9.5,5.1 L-9,5.6 L-8.5,6.1 L-8,6.5 L-7.5,6.9 L-7,7.3 L-6.5,7.6 L-6,7.8 L-5.5,7.9 L-5,8 L-4.5,8 L-4,8 L-3.5,8 L-3,7.9 L-2.5,7.7 L-2,7.5 L-1.5,7.2 L-1,6.9 L-0.5,6.5 L0,6 L0.5,5.5 L1,5 L1.5,4.6 L2,4.2 L2.5,3.8 L3,3.5 L3.5,3.3 L4,3.2 L4.5,3.2 L5,3.3 L5.5,3.6 L6,3.9 L6.5,4.2 L7,4.7 L7.5,5.1 L8,5.6 L8.5,6.1 L9,6.5 L9.5,6.9 L10,7.3 L10.5,7.6 L11,7.8 L11.5,7.9 L12,8 L12.5,8 L13,8 L13.5,8 L14,7.9 L14.5,7.7 L15,7.5 L15.5,7.2 L16,6.9 L16.5,6.5 L17,6 L17.5,5.5 L18,5 L18.5,4.6 L19,4.2 L19.5,3.8 L20,3.5 L20.5,3.3 L21,3.2 L21.5,3.2 L22,3.3 L22.5,3.6 L23,3.9 L23.5,4.2 L24,4.7 L24,24 Z" fill="url(#chk)" stroke="#2424a4" stroke-width="0.5"/><path d="M-24,-3.3 H24" stroke="#2020a0" stroke-width="0.6"/></g><ellipse cx="0" cy="0" rx="23.4" ry="21.2" fill="none" stroke="#2424a4" stroke-width="0.9"/></g>
<g transform="translate(648.1,433.3)"><g clip-path="url(#cc)"><rect x="-24" y="-22" width="48" height="44" fill="#fff"/><rect x="-24" y="-13.8" width="48" height="4.6" fill="url(#hat)"/><rect x="-24" y="-9.6" width="48" height="3.6" fill="#6c5c58"/><rect x="-24" y="-6.4" width="48" height="3.2" fill="#7a2088"/><path d="M-24,-5 H24" stroke="#fff" stroke-width="0.9" stroke-dasharray="2.4,2.2"/><rect x="-24" y="-3.2" width="48" height="30" fill="#2c6c2c"/><path d="M-24,24 L-24,5.4 L-24,8.2 L-23.5,8.6 L-23,8.9 L-22.5,9.1 L-22,9.3 L-21.5,9.3 L-21,9.3 L-20.5,9.2 L-20,9.1 L-19.5,8.9 L-19,8.5 L-18.5,8 L-18,7.5 L-17.5,6.8 L-17,6.1 L-16.5,5.3 L-16,4.5 L-15.5,3.7 L-15,3 L-14.5,2.5 L-14,2 L-13.5,1.7 L-13,1.5 L-12.5,1.5 L-12,1.7 L-11.5,2.1 L-11,2.6 L-10.5,3.2 L-10,3.9 L-9.5,4.6 L-9,5.4 L-8.5,6.2 L-8,6.9 L-7.5,7.6 L-7,8.2 L-6.5,8.6 L-6,8.9 L-5.5,9.1 L-5,9.3 L-4.5,9.3 L-4,9.3 L-3.5,9.2 L-3,9.1 L-2.5,8.9 L-2,8.5 L-1.5,8 L-1,7.5 L-0.5,6.8 L0,6.1 L0.5,5.3 L1,4.5 L1.5,3.7 L2,3 L2.5,2.5 L3,2 L3.5,1.7 L4,1.5 L4.5,1.5 L5,1.7 L5.5,2.1 L6,2.6 L6.5,3.2 L7,3.9 L7.5,4.6 L8,5.4 L8.5,6.2 L9,6.9 L9.5,7.6 L10,8.2 L10.5,8.6 L11,8.9 L11.5,9.1 L12,9.3 L12.5,9.3 L13,9.3 L13.5,9.2 L14,9.1 L14.5,8.9 L15,8.5 L15.5,8 L16,7.5 L16.5,6.8 L17,6.1 L17.5,5.3 L18,4.5 L18.5,3.7 L19,3 L19.5,2.5 L20,2 L20.5,1.7 L21,1.5 L21.5,1.5 L22,1.7 L22.5,2.1 L23,2.6 L23.5,3.2 L24,3.9 L24,24 Z" fill="url(#chk)" stroke="#2424a4" stroke-width="0.5"/><path d="M-24,-3.3 H24" stroke="#2020a0" stroke-width="0.6"/></g><ellipse cx="0" cy="0" rx="23.4" ry="21.2" fill="none" stroke="#2424a4" stroke-width="0.9"/></g>
<g>
<clipPath id="cb"><polygon points="774.8,77 890.8,77 890.8,90 869,144.2 797.4,144.2 774.8,90"/></clipPath>
<polygon points="776.6,97.2 889,97.2 869,144.2 797.4,144.2" fill="#316b1c"/>
<rect x="774.8" y="77" width="116" height="20.4" fill="#fff"/>
<rect x="774.8" y="77" width="116" height="4.4" fill="#3c3c14"/>
<path d="M774.8,85.2 H890.8 M775.2,81 V92 M890.4,81 V92" stroke="#2828c0" stroke-width="0.9" fill="none"/>
<g id="cords">
<g id="cord1"><circle cx="780" cy="91.4" r="4.7" fill="#14141c"/><path d="M780,91.4 L776,89 A4.7,4.7 0 0 1 780,86.7 Z" fill="#2840e0"/><path d="M780,91.4 L780.6,86.8 A4.7,4.7 0 0 1 784.6,90.6 Z" fill="#e02828"/><circle cx="779" cy="93.6" r="1" fill="#e8e8f0"/><circle cx="781.6" cy="93" r="0.8" fill="#d0d0e0"/></g>
<use href="#cord1" x="12.1"/><use href="#cord1" x="24.2"/><use href="#cord1" x="36.2"/><use href="#cord1" x="48.1"/><use href="#cord1" x="60"/><use href="#cord1" x="72"/><use href="#cord1" x="84"/><use href="#cord1" x="96"/><use href="#cord1" x="107.4"/>
</g>
<circle cx="779.6" cy="94" r="2" fill="#3a8a2a"/><circle cx="888" cy="94" r="2" fill="#3a8a2a"/>
<g stroke="#e4f4b0" fill="none" stroke-linecap="round">
<path d="M782.5,113 L796,97.6" stroke-width="0.9"/>
<path d="M788,125 L822.7,98" stroke-width="0.9"/>
<path d="M804,144 L826,129" stroke-width="0.9"/>
<path d="M826,129 L886,99" stroke-width="0.4" opacity="0.5"/>
<path d="M833,143 L874,124" stroke-width="0.4" opacity="0.5"/>
</g>
<path d="M833,71.6 V148" stroke="#dc5878" stroke-width="0.8"/>
<g stroke="#f2f2f2" stroke-width="0.8" fill="none">
<path d="M843,56.5 H888"/><path d="M681,130.5 H770 L796,98"/><path d="M716,153.5 H752 L790,126"/><path d="M697,178.5 H756 L806,144"/><path d="M843,56.5 L826,76"/>
</g>
</g>

<g>
<text class="zh" x="131.8" y="192.4">混炼</text><text class="en" x="134" y="203.4">Mixing</text>
<text class="zh" x="251.6" y="190.8">橡胶胶片</text><text class="en" x="252.4" y="200.7">Rubber Stripe</text>
<text class="zh" x="366.2" y="190.8">压延</text><text class="en" x="365.6" y="200.9">Calendering</text>
<text class="zh" x="489.6" y="192">粘着胶</text><text class="en" x="489.6" y="202.8">Adhesion Gum</text>
<text class="zh" x="385.3" y="279">直切</text><text class="en" x="385.1" y="289.7">Banner</text>
<text class="zh" x="488" y="242.4">增强橡胶</text><text class="en" x="487.9" y="253.2">Undercord</text>
<text class="zh" x="585.3" y="242.4">料架</text><text class="en" x="585.1" y="253.2">Stock Service</text>
<text class="zh" x="224.8" y="359.4">帆布压延</text><text class="en" x="260" y="359.5">Fabric</text><text class="en" x="237.7" y="369.6">Calendering</text>
<text class="zh" x="358.8" y="359.4">斜切</text><text class="en" x="358.6" y="369.6">Bias Cutting</text>
<text class="zh" x="475.2" y="320.4">顶层帆布</text><text class="en" x="474.9" y="331.3">Overcord</text>
<text class="zh" x="137.3" y="444.8">帘线</text><text class="er" x="136.8" y="455.8">Cord</text>
<text class="zh" x="732.7" y="296.4">缠绕装置</text><text class="en" x="732.4" y="306.8">Building</text>
<text class="zh" x="736" y="440.3">硫化</text><text class="er" x="736.2" y="450.6">Curing</text>
<text class="zh" x="738.7" y="557.8">脱模</text><text class="er" x="738.3" y="568.6">Stripping</text>
<text class="zh" x="609.3" y="554.8">切割</text><text class="er" x="608.8" y="565.4">Cutting</text>
<text class="zh" x="478" y="561.4">磨削</text><text class="er" x="478.2" y="572.6">Grinding</text>
<text class="zh" x="368.7" y="564.2">测量</text><text class="en" x="368.9" y="575.1">Measuring</text>
<text class="zh" x="251.5" y="557.8">包装</text><text class="er" x="251" y="568.3">Packaging</text>
</g>
<g>
<text class="bl" x="843.4" y="50.8">Ovecord</text>
<text class="bl" x="682" y="125.5">Adhesion Gum</text>
<text class="bl" x="722.6" y="148.6">Cord</text>
<text class="bl" x="698.8" y="173.8">Undercord</text>
</g>

</svg>
</body>
</html>
